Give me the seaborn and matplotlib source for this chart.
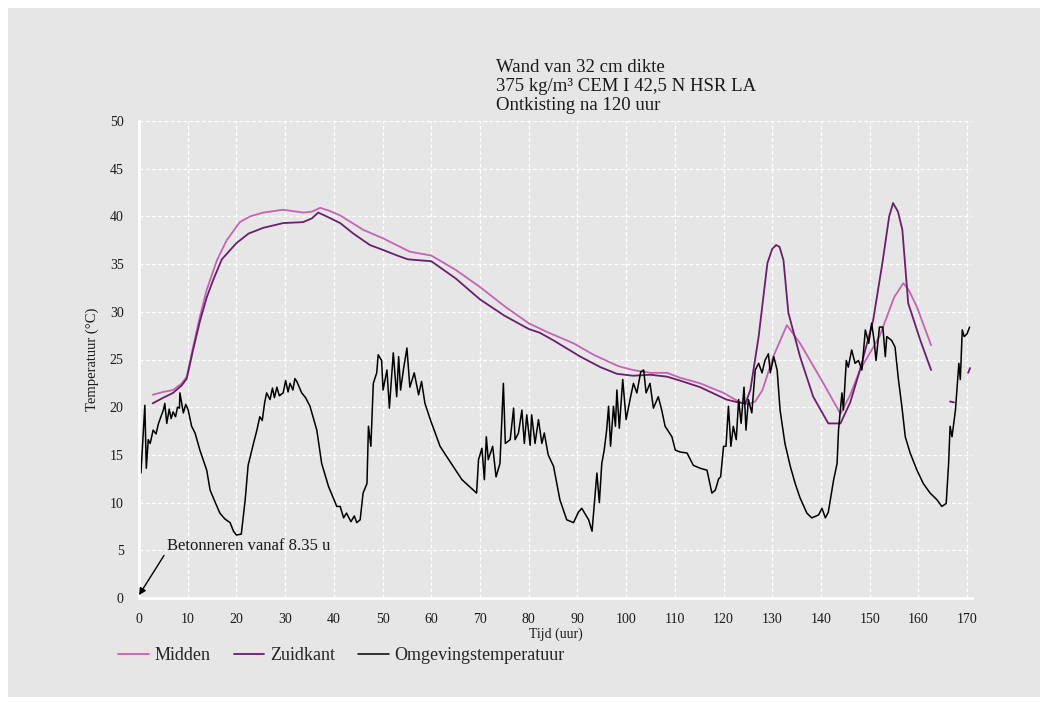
import matplotlib
matplotlib.use('Agg')
import matplotlib.pyplot as plt
from matplotlib.patches import Rectangle
import seaborn as sns
import pandas as pd

# >> Data
midden_x = [2.8, 5, 7, 8.8, 9.8, 11.1, 12.5, 13.9, 16, 18, 20.7, 22.8, 25.5, 29.6, 33.7, 35.5,
            37.2, 39, 41.3, 46, 50.1, 55.6, 60, 65, 70, 75, 80, 83.7, 89.2, 93.3, 98.4, 101.4,
            105, 108.4, 111, 115.2, 120, 123.4, 125, 126.5, 128, 130.2, 133, 135.7, 140.5, 144,
            146, 148, 152, 155, 156.9, 158, 159.7, 162.6]
midden_y = [21.3, 21.6, 21.8, 22.5, 23.2, 26.3, 29.5, 32.3, 35.4, 37.5, 39.4, 40.0, 40.4, 40.7,
            40.4, 40.5, 40.9, 40.6, 40.1, 38.6, 37.7, 36.3, 35.9, 34.4, 32.6, 30.6, 28.8, 27.9,
            26.7, 25.5, 24.3, 23.9, 23.6, 23.6, 23.1, 22.5, 21.5, 20.5, 20.3, 20.6, 21.8, 25.3,
            28.6, 26.7, 22.5, 19.3, 21.3, 23.9, 27.4, 31.5, 33.0, 32.3, 30.5, 26.5]

zuid_x = [2.8, 5, 7, 8.8, 9.8, 11.1, 12.5, 13.9, 15.2, 17, 20, 22.5, 25.5, 29.6, 33.7, 35.5,
          36.8, 38.5, 41.3, 44, 47.4, 50, 53, 55.2, 60, 65, 70, 75, 80, 82.3, 85.1, 90.6, 94.7,
          98.1, 101.4, 105, 108.4, 111, 115.2, 120.6, 123, 124.5, 125.5, 127.2, 129, 130, 130.8,
          131.5, 132.3, 133.3, 135.7, 138.4, 141.5, 144, 146, 148, 150.7, 152.6, 154, 154.8,
          155.8, 156.7, 157.9, 160.4, 162.6]
zuid_y = [20.4, 21.0, 21.5, 22.3, 23.0, 26.0, 29.0, 31.5, 33.3, 35.5, 37.2, 38.2, 38.8, 39.3,
          39.4, 39.8, 40.4, 40.0, 39.3, 38.2, 37.0, 36.5, 35.9, 35.5, 35.3, 33.5, 31.3, 29.6,
          28.2, 27.8, 27.0, 25.3, 24.2, 23.5, 23.3, 23.4, 23.2, 22.8, 22.1, 20.8, 20.5, 20.4,
          21.8, 27.4, 35.1, 36.6, 37.0, 36.8, 35.4, 29.9, 25.3, 21.1, 18.3, 18.3, 20.5, 23.9,
          29.1, 35.1, 40.0, 41.4, 40.5, 38.6, 30.9, 27.0, 23.9]
# two short loose pieces of the Zuidkant record at the end
zuid_x2 = [166.5, 167.3]
zuid_y2 = [20.6, 20.5]
zuid_x3 = [170.2, 170.6]
zuid_y3 = [23.6, 24.1]

omg_x = [0, 0.4, 1.2, 1.5, 1.9, 2.3, 2.9, 3.5, 4, 4.5, 5, 5.3, 5.7, 6.2, 6.6, 7, 7.5, 7.9, 8.3,
         8.4, 9.1, 9.6, 10.1, 10.8, 11.5, 12.5, 13.9, 14.6, 15.5, 16.6, 17.6, 18.7, 19.4, 20, 21,
         21.8, 22.4, 23.5, 24.2, 24.8, 25.3, 25.8, 26.2, 26.9, 27.4, 27.8, 28.3, 28.8, 29.6,
         30.1, 30.6, 31, 31.6, 32, 32.4, 33.4, 34.2, 35.1, 36.5, 37.5, 38.9, 40.6, 41.3, 42,
         42.6, 43.5, 44.2, 44.7, 45.4, 46, 46.8, 47.1, 47.6, 48.1, 48.8, 49.1, 49.8, 50.1, 50.9,
         51.4, 52.2, 52.9, 53.3, 53.7, 54.3, 55, 55.6, 56.5, 57.4, 58, 58.7, 59.8, 61.1, 61.8,
         63.2, 64.5, 66.3, 67.6, 69.3, 69.7, 70.4, 70.9, 71.3, 71.7, 72.6, 73.3, 74.1, 74.8,
         75.2, 76.2, 76.9, 77.2, 77.9, 78.6, 79.1, 79.6, 80.3, 80.6, 81.3, 82, 82.7, 83.2, 84,
         85.1, 86.4, 87.8, 89.2, 90.2, 90.9, 92.3, 93, 94, 94.5, 95, 95.5, 96, 96.4, 96.8, 97.4,
         97.8, 98.1, 98.6, 99.3, 100, 100.8, 101.5, 102.2, 103, 103.6, 104.1, 104.9, 105.6,
         106.6, 107.3, 108, 109.4, 110.1, 111.1, 112.5, 113.8, 115.2, 116.6, 117.6, 118.3, 119,
         119.4, 120, 120.5, 121, 121.5, 122, 122.6, 123.1, 123.6, 124.2, 124.6, 125.1, 125.8,
         126.5, 127.2, 127.9, 128.5, 129.2, 129.6, 130.3, 131, 131.6, 132.6, 133.7, 134.7, 135.7,
         137.1, 138.1, 139.5, 140.2, 140.9, 141.5, 142.6, 143.3, 143.6, 144.3, 144.6, 145.2,
         145.6, 146.3, 147, 147.7, 148.4, 149.1, 149.8, 150.4, 150.9, 151.3, 152, 152.7, 153.2,
         153.5, 154.5, 155.2, 155.9, 156.6, 157.3, 158.3, 159.7, 161, 162.4, 163.8, 164.8,
         165.7, 166.2, 166.5, 166.9, 167.6, 168.3, 168.6, 169, 169.4, 170, 170.5]
omg_y = [15.2, 13.1, 20.2, 13.6, 16.6, 16.2, 17.6, 17.2, 18.3, 19.0, 19.7, 20.4, 18.3, 19.8,
         18.8, 19.5, 19.0, 20.0, 19.9, 21.5, 19.4, 20.3, 19.7, 18.0, 17.3, 15.5, 13.4, 11.3,
         10.2, 8.9, 8.3, 7.9, 7.0, 6.6, 6.7, 10.3, 13.9, 16.2, 17.6, 19.0, 18.6, 20.5, 21.5,
         20.8, 22.0, 21.0, 22.1, 21.2, 21.5, 22.8, 21.6, 22.5, 21.8, 23.0, 22.7, 21.5, 21.0,
         20.1, 17.6, 14.1, 11.7, 9.6, 9.6, 8.4, 8.9, 8.0, 8.6, 7.9, 8.2, 11.0, 12.0, 18.0, 15.9,
         22.5, 23.6, 25.5, 24.9, 21.8, 23.9, 19.9, 25.7, 21.1, 25.3, 21.8, 24.0, 26.2, 22.1,
         23.6, 21.3, 22.7, 20.4, 18.7, 16.9, 15.9, 14.8, 13.8, 12.4, 11.8, 11.0, 14.5, 15.7,
         12.4, 16.9, 14.5, 15.9, 12.7, 14.1, 22.5, 16.2, 16.6, 19.9, 16.6, 17.3, 19.7, 16.2,
         19.2, 16.0, 19.2, 16.2, 18.7, 16.2, 17.3, 15.0, 13.8, 10.3, 8.2, 7.9, 9.0, 9.4, 8.2,
         7.0, 13.1, 10.0, 14.1, 15.5, 17.6, 20.1, 15.9, 20.1, 18.0, 21.8, 17.8, 22.9, 18.7,
         20.8, 22.5, 21.5, 23.7, 23.9, 21.5, 22.5, 19.9, 21.1, 19.7, 18.0, 16.9, 15.5, 15.3,
         15.2, 13.9, 13.6, 13.4, 11.0, 11.3, 12.5, 12.7, 15.9, 15.9, 20.1, 15.9, 18.0, 16.6,
         20.8, 18.3, 22.1, 17.6, 20.8, 19.4, 23.9, 24.6, 23.6, 24.9, 25.6, 23.6, 25.3, 23.9,
         19.7, 16.2, 13.8, 12.0, 10.5, 8.9, 8.4, 8.7, 9.4, 8.4, 9.0, 12.4, 14.1, 17.6, 21.5,
         19.7, 24.9, 24.2, 26.0, 24.6, 24.9, 23.9, 28.1, 26.7, 28.8, 27.0, 24.9, 28.4, 28.4,
         25.3, 27.4, 27.0, 26.3, 22.9, 20.1, 16.9, 15.2, 13.4, 12.0, 11.0, 10.3, 9.6, 9.9,
         14.1, 18.0, 16.9, 19.7, 24.6, 22.9, 28.1, 27.4, 27.7, 28.4]

titel = ['Wand van 32 cm dikte', '375 kg/m³ CEM I 42,5 N HSR LA', 'Ontkisting na 120 uur']
x_ticks = list(range(0, 171, 10))
y_ticks = list(range(0, 51, 5))

col_mid = '#c464b4'
col_zuid = '#6a1f6c'
col_omg = '#000000'
bg = '#e6e6e6'
txt = '#1a1a1a'

sns.set_style('darkgrid', {'axes.facecolor': bg, 'grid.color': 'white', 'grid.linestyle': '--'})
plt.rcParams['font.family'] = ['Liberation Serif', 'DejaVu Serif']

fig = plt.figure(figsize=(10.47, 7.05), dpi=100)
fig.patches.append(Rectangle((8 / 1047, 1 - 697 / 705), 1032 / 1047, 689 / 705,
                             transform=fig.transFigure, facecolor=bg, edgecolor='none', zorder=-5))
ax = fig.add_axes([139 / 1047, 1 - 598 / 705, (972 - 139) / 1047, (598 - 121) / 705])

df_mid = pd.DataFrame({'x': midden_x, 'y': midden_y})
df_omg = pd.DataFrame({'x': omg_x, 'y': omg_y})
df_zuid = pd.concat([
    pd.DataFrame({'x': zuid_x, 'y': zuid_y, 'seg': 0}),
    pd.DataFrame({'x': zuid_x2, 'y': zuid_y2, 'seg': 1}),
    pd.DataFrame({'x': zuid_x3, 'y': zuid_y3, 'seg': 2}),
])

sns.lineplot(data=df_mid, x='x', y='y', color=col_mid, lw=1.3, estimator=None, ax=ax, label='Midden')
sns.lineplot(data=df_zuid, x='x', y='y', units='seg', color=col_zuid, lw=1.3, estimator=None, ax=ax,
             label='Zuidkant')
sns.lineplot(data=df_omg, x='x', y='y', color=col_omg, lw=1.1, estimator=None, ax=ax,
             label='Omgevingstemperatuur')

ax.set_xlim(0, 171)
ax.set_ylim(0, 50)
ax.set_xticks(x_ticks)
ax.set_xticks(list(range(5, 171, 10)), minor=True)
ax.set_yticks(y_ticks)
ax.grid(which='major', color='white', linestyle=(0, (3, 2)), linewidth=0.9)
ax.grid(which='minor', visible=False)
ax.tick_params(axis='both', which='both', colors='white', length=3, width=1.5,
               labelcolor=txt, labelsize=10, direction='out')
ax.tick_params(axis='x', pad=8)
ax.tick_params(axis='y', pad=8)
for s in ['top', 'right']:
    ax.spines[s].set_visible(False)
for s in ['left', 'bottom']:
    ax.spines[s].set_visible(True)
    ax.spines[s].set_color('white')
    ax.spines[s].set_linewidth(2)
ax.set_xlabel('Tijd (uur)', fontsize=10, color=txt, labelpad=1)
ax.set_ylabel('Temperatuur (°C)', fontsize=10.5, color=txt, labelpad=8)

ax.annotate('Betonneren vanaf 8.35 u', xy=(0, 0.3), xytext=(5.8, 5.5), fontsize=12,
            va='center', ha='left', color=txt,
            arrowprops=dict(arrowstyle='-|>', color='black', lw=1, mutation_scale=10,
                            shrinkA=0, shrinkB=0, relpos=(0, 0.2)))

for i, t in enumerate(titel):
    fig.text(496 / 1047, 1 - (67 + i * 19.5) / 705, t, fontsize=13.5, va='center', ha='left',
             color=txt)

# one legend entry per series (the Zuidkant pieces share one)
ax.get_legend().remove()
h, l = ax.get_legend_handles_labels()
hh, ll = [], []
for a, b in zip(h, l):
    if b not in ll:
        hh.append(a)
        ll.append(b)
fig.legend(hh, ll, loc='center left', bbox_to_anchor=(118 / 1047, 1 - 656 / 705), ncol=3,
           frameon=False, fontsize=13, handlelength=1.7, handletextpad=0.3, columnspacing=1.3,
           borderpad=0, borderaxespad=0)

fig.savefig('out.png', dpi=100, facecolor='white')
